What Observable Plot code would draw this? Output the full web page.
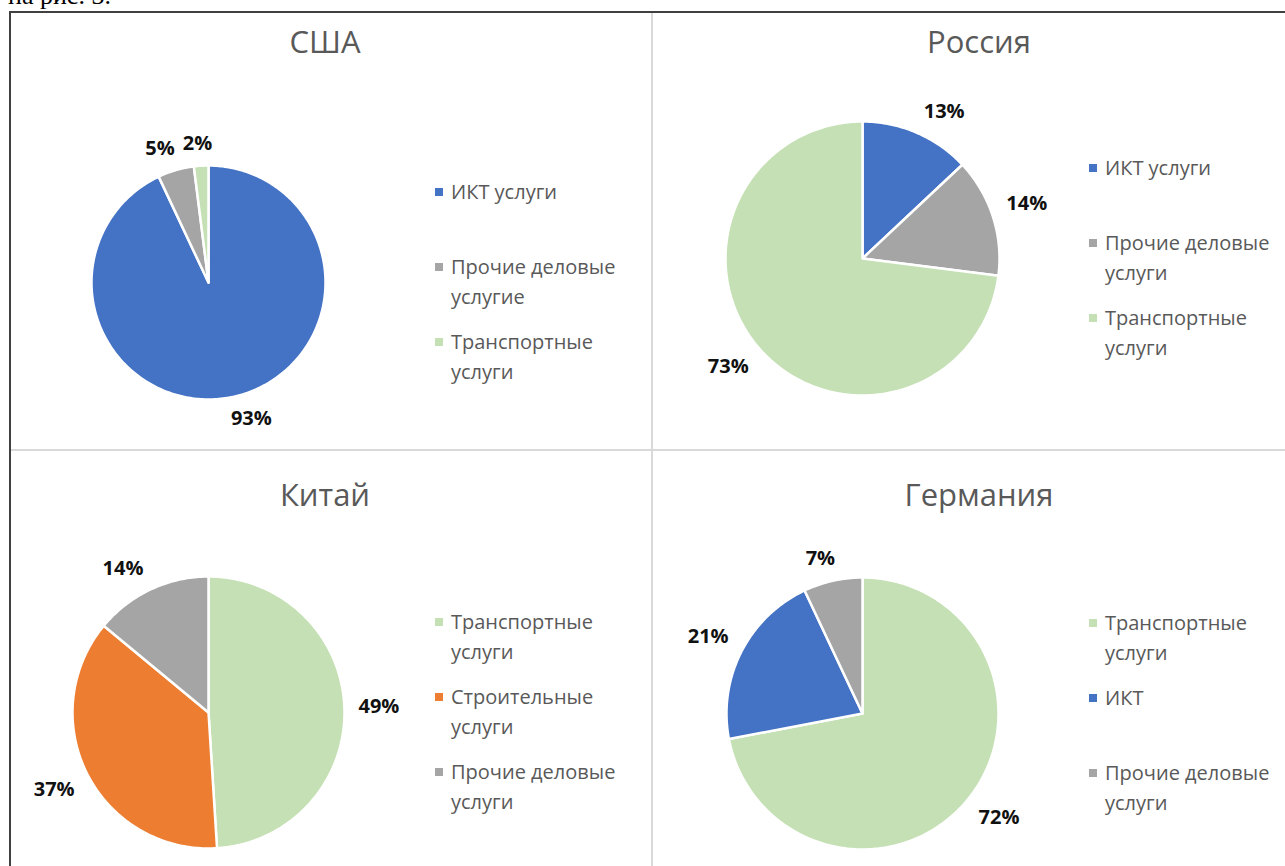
<!DOCTYPE html>
<html>
<head>
<meta charset="utf-8">
<script src="https://cdn.jsdelivr.net/npm/d3@7"></script>
<script src="https://cdn.jsdelivr.net/npm/@observablehq/plot@0.6"></script>
<style>
  html, body { margin: 0; padding: 0; background: #fff; }
  #page { position: relative; width: 1285px; height: 866px; overflow: hidden; font-family: "Open Sans", Lato, sans-serif; }
  .cut { position: absolute; left: 8px; top: -17px; font-family: "Liberation Serif", "Times New Roman", serif; font-size: 26px; line-height: 26px; color: #000; white-space: nowrap; }
  .bl { position: absolute; background: #404040; }
  .dv { position: absolute; background: #d9d9d9; }
  .panel { position: absolute; }
  .panel svg { position: absolute; left: 0; top: 0; overflow: visible; }
  .title { position: absolute; transform: translate(-50%, -50%); font-size: 31px; line-height: 42px; color: #595959; white-space: nowrap; }
  .legend { position: absolute; }
  .item { position: absolute; left: 0; width: 200px; height: 75px; }
  .sw { position: absolute; left: 0; top: 11px; width: 8px; height: 8px; }
  .lt { position: absolute; left: 16px; top: 0; max-width: 190px; font-size: 20px; line-height: 30px; color: #595959; }
</style>
</head>
<body>
<div id="page"></div>
<script>
// ---- data ----
const countries = ["США", "Россия", "Китай", "Германия"];

const usaLabels = ["ИКТ услуги", "Прочие деловые услугие", "Транспортные услуги"];
const usaKinds = ["ict", "other", "transport"];
const usaValues = [93, 5, 2];

const russiaLabels = ["ИКТ услуги", "Прочие деловые услуги", "Транспортные услуги"];
const russiaKinds = ["ict", "other", "transport"];
const russiaValues = [13, 14, 73];

const chinaLabels = ["Транспортные услуги", "Строительные услуги", "Прочие деловые услуги"];
const chinaKinds = ["transport", "construction", "other"];
const chinaValues = [49, 37, 14];

const germanyLabels = ["Транспортные услуги", "ИКТ", "Прочие деловые услуги"];
const germanyKinds = ["transport", "ict", "other"];
const germanyValues = [72, 21, 7];

const kindKeys = ["ict", "other", "transport", "construction"];
const kindColors = ["#4472C4", "#A5A5A5", "#C5E0B4", "#ED7D31"];

// ---- layout ----
const layout = [
  {left: 11, top: 13, w: 641, h: 437, cx: 208, cy: 282, r: 117, ty: 42},
  {left: 653, top: 13, w: 632, h: 437, cx: 862, cy: 258, r: 137, ty: 42},
  {left: 11, top: 451, w: 641, h: 415, cx: 208, cy: 712, r: 136, ty: 495},
  {left: 653, top: 451, w: 632, h: 415, cx: 862, cy: 713, r: 136, ty: 495}
];
const series = [
  [usaLabels, usaKinds, usaValues],
  [russiaLabels, russiaKinds, russiaValues],
  [chinaLabels, chinaKinds, chinaValues],
  [germanyLabels, germanyKinds, germanyValues]
];

const page = document.getElementById("page");
function el(cls, css, html) {
  const d = document.createElement("div");
  d.className = cls;
  Object.assign(d.style, css);
  if (html != null) d.textContent = html;
  page.appendChild(d);
  return d;
}

el("cut", {}, "на рис. 3.");
// frame lines
el("bl", {left: "9px", top: "11px", width: "1276px", height: "1.5px"});
el("bl", {left: "9px", top: "11px", width: "1.5px", height: "855px"});
el("dv", {left: "651px", top: "12.5px", width: "2px", height: "854px"});
el("dv", {left: "10.5px", top: "449px", width: "1275px", height: "2px"});

const colorOf = Object.fromEntries(kindKeys.map((k, i) => [k, kindColors[i]]));
const clamp = v => Math.max(-1, Math.min(1, v));

series.forEach(([labels, kinds, values], p) => {
  const L = layout[p];
  const rows = labels.map((label, i) => ({label, kind: kinds[i], value: values[i]}));
  const total = d3.sum(rows, d => d.value);
  const arcs = d3.pie().sort(null).value(d => d.value)(rows);

  // slice outlines: centre + arc points (angles clockwise from 12 o'clock)
  const pts = [];
  arcs.forEach(a => {
    const n = Math.max(2, Math.ceil((a.endAngle - a.startAngle) / (Math.PI / 180)));
    pts.push({kind: a.data.kind, x: 0, y: 0});
    for (let j = 0; j <= n; j++) {
      const t = a.startAngle + (a.endAngle - a.startAngle) * j / n;
      pts.push({kind: a.data.kind, x: Math.sin(t), y: Math.cos(t)});
    }
  });

  // labels outside the pie ("outside end"), box corner touching the rim
  const lab = arcs.map(a => {
    const m = (a.startAngle + a.endAngle) / 2;
    const ux = Math.sin(m), uy = Math.cos(m);
    const text = Math.round(a.data.value / total * 100) + "%";
    const w = 15 * text.length, h = 20;
    const k = 1 + 12 / L.r;
    return {
      x: ux * k + (w / 2) * clamp(ux * 3) / L.r,
      y: uy * k + (h / 2) * clamp(uy * 3) / L.r,
      text
    };
  });

  const panel = el("panel", {left: L.left + "px", top: L.top + "px", width: L.w + "px", height: L.h + "px"});
  const x0 = L.cx - L.left, y0 = L.cy - L.top;
  const chart = Plot.plot({
    width: L.w,
    height: L.h,
    margin: 0,
    style: {background: "transparent", overflow: "visible"},
    x: {domain: [-1, 1], range: [x0 - L.r, x0 + L.r], axis: null},
    y: {domain: [-1, 1], range: [y0 + L.r, y0 - L.r], axis: null},
    color: {domain: kindKeys, range: kindColors},
    marks: [
      Plot.line(pts, {x: "x", y: "y", z: "kind", fill: "kind", stroke: "#fff", strokeWidth: 2.5, strokeLinejoin: "round", curve: "linear-closed"}),
      Plot.text(lab, {x: "x", y: "y", text: "text", fontSize: 20, fontWeight: "bold", fill: "#111", fontFamily: "'Open Sans', sans-serif"})
    ]
  });
  panel.appendChild(chart);

  // title
  el("title", {left: (L.cx + 117) + "px", top: (L.ty - 1) + "px"}, countries[p]);

  // legend
  const lg = el("legend", {left: (L.cx + 227) + "px", top: (L.cy - 105) + "px"});
  rows.forEach((r, i) => {
    const it = document.createElement("div");
    it.className = "item";
    it.style.top = (75 * i) + "px";
    const sw = document.createElement("div");
    sw.className = "sw";
    sw.style.background = colorOf[r.kind];
    const lt = document.createElement("div");
    lt.className = "lt";
    lt.textContent = r.label;
    it.appendChild(sw);
    it.appendChild(lt);
    lg.appendChild(it);
  });
});
</script>
</body>
</html>
